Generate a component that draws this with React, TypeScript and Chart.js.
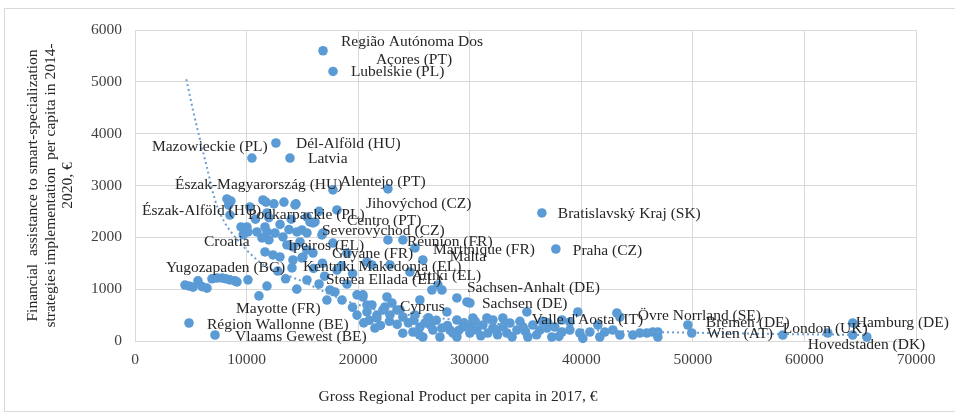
import React, { useEffect, useRef } from "react";
import { Chart, registerables } from "chart.js";
Chart.register(...registerables);

// Gross Regional Product per capita in 2017 (EUR) for each region
const gdpPerCapita = [
  16850, 17750, 10480, 12630, 13890, 17740, 22670, 36470, 37720, 4840, 7170, 49550, 49900, 58060, 64330, 65590, 62090, 64330,
  4480, 4840, 5200, 5645, 6000, 6450, 6900, 7350, 7800, 8150, 8510, 8960, 9140, 10125, 11830, 11110,
  8240, 8600, 8400, 11740, 12450, 13350, 14430, 8510,
  10300, 10030, 10125, 10930, 11650, 11380, 11650, 11470, 14340, 11830, 15680, 15950, 11830, 12545, 13260, 14515, 14960, 15410,
  16755, 14785, 13620, 14160, 12365, 12990, 14160, 15050, 15950, 18100, 9700, 9500, 10800, 12000, 13000, 14000, 16500,
  14070, 15410, 18100, 18550, 19900, 20430, 20790, 19900, 20790, 21680, 17200,
  15410, 16130, 16845, 15410, 14960, 17740, 22670, 24010, 25090, 19000, 20790, 21235, 22850, 24640, 17470, 17920, 20430,
  21235, 22580, 22400, 23745, 25535, 25090, 26610, 27510, 28850, 30015, 25800, 27150,
  23030, 22220, 22850, 23475, 21680, 24010, 29750, 27955, 25535, 24910, 25800, 26700, 27330, 28220, 28850, 29390, 30015,
  30640, 31180, 31630, 32080, 28850, 30285, 31540,
  35125, 39690, 43190, 32080, 32970, 33600, 34230, 34765, 35660, 36290, 36915, 37630, 38260, 38975, 39870, 40770, 41660,
  42110, 42830, 38975, 38260, 32435, 33330, 35210, 37360, 40140, 41485,
  43460, 43460, 44620, 45250, 45875, 46410, 46860, 46860,
  24500, 25000, 26000, 26500, 27000, 27500, 28000, 29000, 30000, 31000, 32500, 33800, 34500, 36000, 37000, 38000, 24000,
  25500, 26300, 28500, 29500, 30500, 33000, 35000, 36500,
  21000, 22000, 19500, 20500, 22800, 21500, 23500,
  16000, 17000, 16500, 18500, 19500, 14500, 13500, 12800, 16800, 19000, 12000, 13800,
];

// Financial assistance to smart-specialization strategies per capita 2014-2020 (EUR)
const assistancePerCapita = [
  5600, 5200, 3530, 3820, 3530, 2915, 2935, 2470, 1775, 347, 116, 309, 154, 116, 347, 77, 154, 116,
  1080, 1060, 1040, 1160, 1050, 1020, 1200, 1215, 1215, 1200, 1180, 1160, 1140, 1180, 1060, 870,
  2740, 2700, 2620, 2680, 2645, 2680, 2645, 2430,
  2586, 2200, 2104, 2104, 2200, 1988, 1718, 2720, 2625, 2470, 2297, 2277, 2104, 2084, 2007, 2104, 2142, 2084,
  2046, 1910, 1853, 1814, 1660, 1621, 1563, 1621, 1698, 2528, 2050, 2200, 2350, 2380, 2250, 2350, 2500,
  1410, 1177, 1370, 790, 890, 890, 695, 500, 560, 500, 790,
  2393, 2297, 2084, 1756, 1602, 1890, 1950, 1950, 1795, 1698, 1525, 1467, 1467, 1332, 984, 946, 849,
  695, 849, 656, 598, 791, 502, 984, 984, 830, 733, 1563, 1081,
  733, 598, 502, 598, 444, 463, 753, 560, 270, 174, 77, 212, 77, 212, 77, 270, 154,
  212, 309, 154, 251, 405, 444, 444,
  560, 560, 540, 405, 444, 347, 212, 270, 309, 212, 251, 270, 174, 212, 154, 174, 77,
  174, 212, 367, 405, 212, 154, 77, 77, 50, 309,
  463, 116, 116, 154, 154, 174, 174, 77,
  350, 400, 350, 300, 400, 250, 300, 200, 300, 100, 120, 80, 380, 120, 350, 90, 150,
  120, 450, 150, 350, 380, 280, 180, 380,
  400, 300, 650, 350, 380, 250, 320,
  1400, 1250, 1100, 1450, 1300, 1000, 1200, 1350, 1500, 1100, 1950, 2150,
];

// Dotted power trend line
const trendGdp = [4600, 5200, 5700, 6500, 7200, 8000, 9200, 10500, 11800, 13500, 15000, 18000, 21300, 25000, 28700, 33000, 38000, 43500, 50000, 58000, 66000];
const trendAssistance = [5050, 4450, 4000, 3300, 2700, 2300, 1950, 1650, 1430, 1280, 1150, 850, 620, 490, 410, 320, 240, 190, 160, 135, 115];

// Region labels and their anchor positions (data units, text starts here)
const labelNames = [
  "Região Autónoma Dos", "Açores (PT)", "Lubelskie (PL)", "Mazowieckie (PL)", "Dél-Alföld (HU)", "Latvia",
  "Észak-Magyarország (HU)", "Alentejo (PT)", "Jihovýchod (CZ)", "Észak-Alföld (HU)", "Podkarpackie (PL)", "Centro (PT)",
  "Severovýchod (CZ)", "Bratislavský Kraj (SK)", "Croatia", "Ipeiros (EL)", "Réunion (FR)", "Martinique (FR)", "Praha (CZ)",
  "Guyane (FR)", "Malta", "Kentriki Makedonia (EL)", "Yugozapaden (BG)", "Attiki (EL)", "Sterea Ellada (EL)",
  "Sachsen-Anhalt (DE)", "Mayotte (FR)", "Cyprus", "Sachsen (DE)", "Région Wallonne (BE)", "Valle d'Aosta (IT)",
  "Övre Norrland (SE)", "Bremen (DE)", "Hamburg (DE)", "London (UK)", "Vlaams Gewest (BE)", "Wien (AT)", "Hovedstaden (DK)",
];
const labelGdp = [
  18460, 21590, 19350, 1520, 14430, 15500,
  3580, 18370, 20700, 630, 10125, 19000,
  16755, 37900, 6180, 13710, 24370, 26700, 39240,
  17650, 28220, 15050, 2780, 24820, 17110,
  29750, 9050, 23745, 31090, 6450, 35570,
  45070, 51160, 64600, 58060, 8960, 51250, 60300,
];
const labelAssistance = [
  5771, 5423, 5192, 3744, 3802, 3513,
  3010, 3069, 2645, 2509, 2432, 2316,
  2123, 2450, 1910, 1833, 1910, 1756, 1737,
  1679, 1621, 1428, 1409, 1254, 1177,
  1023, 618, 656, 714, 309, 405,
  482, 347, 347, 232, 77, 135, -77,
];

const xTickValues = [0, 10000, 20000, 30000, 40000, 50000, 60000, 70000];
const yTickValues = [0, 1000, 2000, 3000, 4000, 5000, 6000];

const xTitle = "Gross Regional Product per capita in 2017, €";
const yTitle = [
  "Financial  assistance to smart-specialization",
  "strategies implementation  per capita in 2014-",
  "2020, €",
];

export default function App() {
  const ref = useRef<HTMLCanvasElement>(null);

  useEffect(() => {
    if (!ref.current) return;

    const framePlugin = {
      id: "frame",
      beforeDraw(chart: any) {
        const { ctx, width, height } = chart;
        ctx.save();
        ctx.fillStyle = "#ffffff";
        ctx.fillRect(0, 0, width, height);
        ctx.strokeStyle = "#d9d9d9";
        ctx.lineWidth = 1;
        ctx.strokeRect(4.5, 8.5, width + 10, height - 10);
        ctx.restore();
      },
    };

    const labelPlugin = {
      id: "regionLabels",
      afterDatasetsDraw(chart: any) {
        const { ctx } = chart;
        const xs = chart.scales.x;
        const ys = chart.scales.y;
        ctx.save();
        ctx.font = '15.5px "Liberation Serif"';
        ctx.fillStyle = "#262626";
        ctx.textAlign = "left";
        ctx.textBaseline = "middle";
        labelNames.forEach((t, i) => {
          ctx.fillText(t, xs.getPixelForValue(labelGdp[i]), ys.getPixelForValue(labelAssistance[i]));
        });
        // x-axis title, placed left of the plot centre as in the original
        ctx.textAlign = "center";
        ctx.fillText(xTitle, 458, 397);
        ctx.restore();
      },
    };

    const chart = new Chart(ref.current, {
      type: "scatter",
      data: {
        datasets: [
          {
            type: "line",
            label: "Trend",
            data: trendGdp.map((x, i) => ({ x, y: trendAssistance[i] })),
            borderColor: "#6a9fd0",
            borderWidth: 2,
            borderDash: [2, 3],
            pointRadius: 0,
            fill: false,
            cubicInterpolationMode: "monotone",
            order: 0,
          } as any,
          {
            label: "Regions",
            data: gdpPerCapita.map((x, i) => ({ x, y: assistancePerCapita[i] })),
            backgroundColor: "#5b9bd5",
            borderColor: "#5b9bd5",
            borderWidth: 0,
            pointRadius: 4.8,
            clip: false as any,
            order: 1,
          },
        ],
      },
      options: {
        animation: false,
        responsive: true,
        maintainAspectRatio: false,
        layout: { padding: { left: 0, right: 39, top: 30, bottom: 0 } },
        plugins: {
          legend: { display: false },
          tooltip: { enabled: false },
        },
        scales: {
          x: {
            type: "linear",
            min: 0,
            max: 70000,
            afterBuildTicks: (s: any) => {
              s.ticks = xTickValues.map((v) => ({ value: v }));
            },
            afterFit: (s: any) => {
              s.height = 72;
            },
            ticks: {
              padding: 10,
              color: "#404040",
              font: { family: '"Liberation Serif"', size: 15.5 },
              callback: (v: any) => String(v),
              maxRotation: 0,
            },
            grid: { color: "#d9d9d9", drawTicks: false },
            border: { color: "#d9d9d9" },
            title: { display: false },
          },
          y: {
            type: "linear",
            min: 0,
            max: 6000,
            afterBuildTicks: (s: any) => {
              s.ticks = yTickValues.map((v) => ({ value: v }));
            },
            afterFit: (s: any) => {
              s.width = 135;
            },
            ticks: {
              padding: 13,
              color: "#404040",
              font: { family: '"Liberation Serif"', size: 15.5 },
              callback: (v: any) => String(v),
            },
            grid: { color: "#d9d9d9", drawTicks: false },
            border: { color: "#d9d9d9" },
            title: {
              display: true,
              text: yTitle,
              color: "#262626",
              font: { family: '"Liberation Serif"', size: 15.5, lineHeight: 1.13 },
              padding: { top: 24.2, bottom: 0 },
            },
          },
        },
      },
      plugins: [framePlugin, labelPlugin],
    });

    return () => chart.destroy();
  }, []);

  return (
    <div style={{ position: "absolute", left: 0, top: 0, width: 955, height: 413 }}>
      <canvas ref={ref} />
    </div>
  );
}
